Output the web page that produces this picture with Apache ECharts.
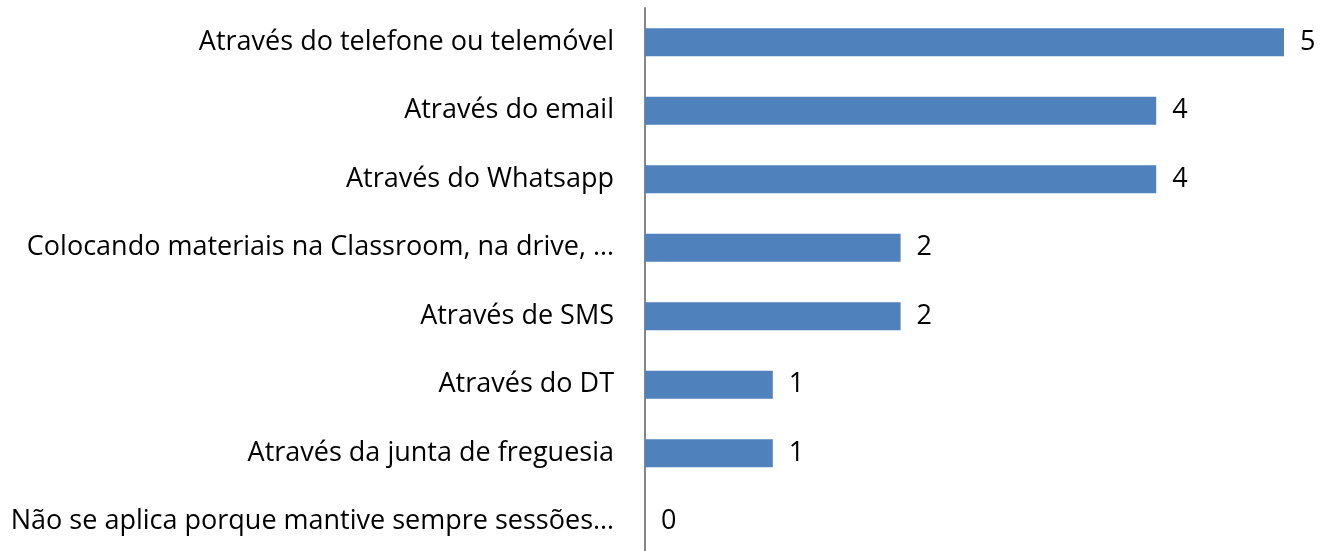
<!DOCTYPE html>
<html>
<head>
<meta charset="utf-8">
<script src="https://cdn.jsdelivr.net/npm/echarts@6/dist/echarts.min.js"></script>
<style>
  html, body { margin: 0; padding: 0; background: #fff; }
  #chart { width: 1321px; height: 551px; }
</style>
</head>
<body>
<div id="chart"></div>
<script>
// categories top to bottom (category axis is inverted below)
var categories = [
  "Através do telefone ou telemóvel",
  "Através do email",
  "Através do Whatsapp",
  "Colocando materiais na Classroom, na drive, …",
  "Através de SMS",
  "Através do DT",
  "Através da junta de freguesia",
  "Não se aplica porque mantive sempre sessões…"
];
var counts = [5, 4, 4, 2, 2, 1, 1, 0];

var myChart = echarts.init(document.getElementById("chart"));
var option = {
  animation: false,
  grid: {
    left: 645,
    right: 37,
    top: 8,
    height: 548,
    containLabel: false,
    outerBoundsMode: "none"
  },
  xAxis: {
    type: "value",
    min: 0,
    max: 5,
    show: false
  },
  yAxis: {
    type: "category",
    inverse: true,
    data: categories,
    axisLine: { lineStyle: { color: "#868686", width: 2 } },
    axisTick: { show: false },
    axisLabel: {
      color: "#000",
      fontFamily: "Open Sans",
      fontSize: 27,
      margin: 31
    }
  },
  series: [
    {
      type: "bar",
      data: counts,
      barWidth: 28,
      itemStyle: { color: "#4F81BD" },
      label: {
        show: true,
        position: "right",
        distance: 16,
        color: "#000",
        fontFamily: "Open Sans",
        fontSize: 27
      }
    }
  ]
};
myChart.setOption(option);
</script>
</body>
</html>
